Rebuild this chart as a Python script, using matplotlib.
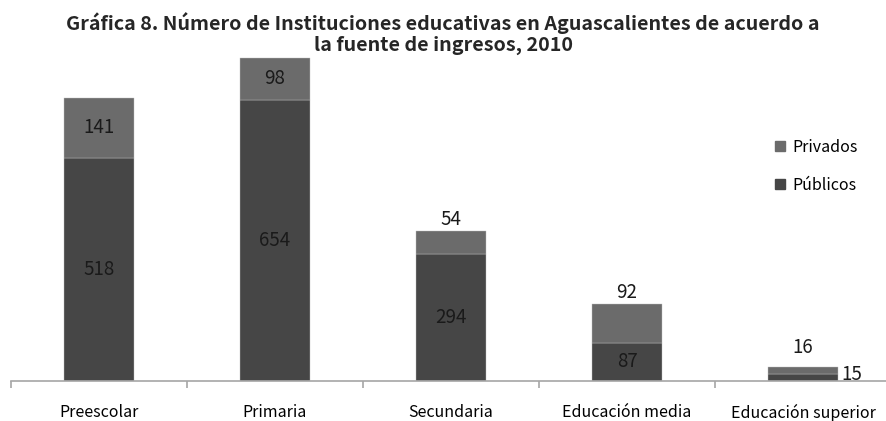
import matplotlib
matplotlib.use("Agg")
import matplotlib.pyplot as plt
from matplotlib.patches import Patch

categories = ["Preescolar", "Primaria", "Secundaria", "Educación media", "Educación superior"]
publicos = [518, 654, 294, 87, 15]
privados = [141, 98, 54, 92, 16]

plt.rcParams['font.family'] = ['Noto Sans CJK KR', 'DejaVu Sans']

c_pub = '#464646'
c_priv = '#6b6b6b'

fig = plt.figure(figsize=(8.86, 4.21), dpi=100)
W, H = 886, 421
base_px = 380.5
top_px = 37
ymax = 800
x0_px, x1_px = 11, 891
ax = fig.add_axes([x0_px / W, (H - base_px) / H, (x1_px - x0_px) / W, (base_px - top_px) / H])

x = list(range(len(categories)))
ax.bar(x, publicos, width=0.4, color=c_pub, edgecolor='#bdbdbd', linewidth=0.3, label='Públicos')
ax.bar(x, privados, width=0.4, bottom=publicos, color=c_priv, edgecolor='#bdbdbd', linewidth=0.3, label='Privados')
ax.set_xlim(-0.5, 4.5)
ax.set_ylim(0, ymax)

for s in ['top', 'right', 'left']:
    ax.spines[s].set_visible(False)
ax.spines['bottom'].set_color('#a6a6a6')
ax.spines['bottom'].set_linewidth(1.2)
ax.set_yticks([])
ax.set_xticks([i - 0.5 for i in range(len(categories) + 1)], minor=False)
ax.set_xticklabels([])
ax.tick_params(axis='x', which='major', length=5, color='#a6a6a6', width=1.2)
ax.set_xticks(x, minor=True)
ax.set_xticklabels(categories, minor=True, fontsize=11.5)
ax.tick_params(axis='x', which='minor', length=0, pad=17)

fs = 13.5
# value labels
for i in range(3):
    ax.text(i, publicos[i] / 2, str(publicos[i]), ha='center', va='center', fontsize=fs, color='#1a1a1a')
for i in range(2):
    ax.text(i, publicos[i] + privados[i] / 2, str(privados[i]), ha='center', va='center', fontsize=fs, color='#1a1a1a')
# Secundaria privados above
ax.text(2, publicos[2] + privados[2] + 28, str(privados[2]), ha='center', va='center', fontsize=fs, color='#1a1a1a')
# Educación media
ax.text(3, publicos[3] / 2, str(publicos[3]), ha='center', va='center', fontsize=fs, color='#1a1a1a')
ax.text(3, publicos[3] + privados[3] + 27, str(privados[3]), ha='center', va='center', fontsize=fs, color='#1a1a1a')
# Educación superior
ax.text(4, publicos[4] + privados[4] + 46, str(privados[4]), ha='center', va='center', fontsize=fs, color='#1a1a1a')
ax.text(4.22, 14, str(publicos[4]), ha='left', va='center', fontsize=fs, color='#1a1a1a')

handles = [Patch(color=c_priv, label='Privados'), Patch(color=c_pub, label='Públicos')]
fig.legend(handles=handles, loc='upper left', bbox_to_anchor=(775 / W, 1 - 139 / H), frameon=False,
           fontsize=11.5, handlelength=0.6, handleheight=0.6, handletextpad=0.5, labelspacing=1.3,
           borderaxespad=0, borderpad=0)

fig.text(0.5, 1 - 12 / H, "Gráfica 8. Número de Instituciones educativas en Aguascalientes de acuerdo a\nla fuente de ingresos, 2010",
         ha='center', va='top', fontsize=14.2, fontweight='bold', linespacing=1.1, color='#262626')

fig.savefig("out.png", dpi=100)
